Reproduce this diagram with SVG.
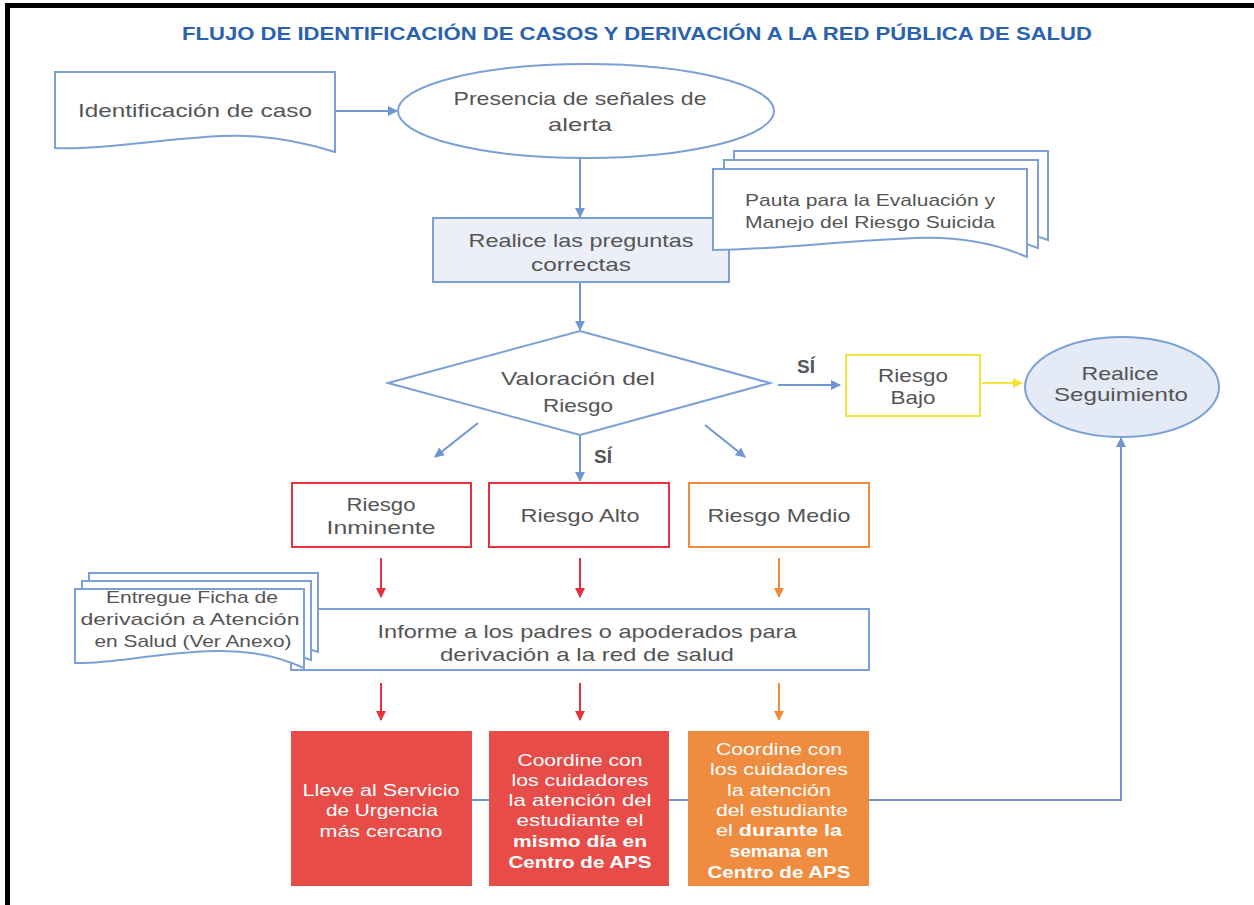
<svg xmlns="http://www.w3.org/2000/svg" width="1254" height="905" viewBox="0 0 1254 905">
<defs>
<style>
.t{font-family:"Liberation Sans","Open Sans",sans-serif;font-size:19px;fill:#555;text-anchor:middle}
.s{font-size:17px}
.w{fill:#fff;font-size:17px}
.b{font-weight:bold}
.bl{fill:none;stroke:#6f96d1;stroke-width:2}
.doc{fill:#fff;stroke:#7ba0d8;stroke-width:2}
</style>
<marker id="ab" viewBox="0 0 10 10" refX="9" refY="5" markerWidth="5" markerHeight="5" orient="auto"><path d="M0,0L10,5L0,10z" fill="#6f96d1"/></marker>
<marker id="ar" viewBox="0 0 10 10" refX="9" refY="5" markerWidth="5" markerHeight="5" orient="auto"><path d="M0,0L10,5L0,10z" fill="#e8313a"/></marker>
<marker id="ao" viewBox="0 0 10 10" refX="9" refY="5" markerWidth="5" markerHeight="5" orient="auto"><path d="M0,0L10,5L0,10z" fill="#f08a3c"/></marker>
<marker id="ay" viewBox="0 0 10 10" refX="9" refY="5" markerWidth="5" markerHeight="5" orient="auto"><path d="M0,0L10,5L0,10z" fill="#f5e33a"/></marker>
</defs>
<rect width="1254" height="905" fill="#fff"/>
<path d="M7.5,910V5.5H1260" fill="none" stroke="#000" stroke-width="5"/>
<text x="637" y="40" font-family="Liberation Sans,Arial,sans-serif" font-size="19" font-weight="bold" fill="#2a62b0" text-anchor="middle" textLength="910" lengthAdjust="spacingAndGlyphs">FLUJO DE IDENTIFICACIÓN DE CASOS Y DERIVACIÓN A LA RED PÚBLICA DE SALUD</text>

<g id="connectors">
<line class="bl" x1="336" y1="111" x2="397" y2="111" marker-end="url(#ab)"/>
<line class="bl" x1="580" y1="158" x2="580" y2="217" marker-end="url(#ab)"/>
<line class="bl" x1="580" y1="282" x2="580" y2="330" marker-end="url(#ab)"/>
<line class="bl" x1="778" y1="385" x2="840" y2="385" marker-end="url(#ab)"/>
<line x1="982" y1="383" x2="1022" y2="383" stroke="#f5e33a" stroke-width="2" marker-end="url(#ay)"/>
<line class="bl" x1="478" y1="423" x2="435" y2="457" marker-end="url(#ab)"/>
<line class="bl" x1="705" y1="425" x2="745" y2="457" marker-end="url(#ab)"/>
<line class="bl" x1="580" y1="435" x2="580" y2="481" marker-end="url(#ab)"/>
<line x1="381" y1="558" x2="381" y2="597" stroke="#e8313a" stroke-width="2" marker-end="url(#ar)"/>
<line x1="580" y1="558" x2="580" y2="597" stroke="#e8313a" stroke-width="2" marker-end="url(#ar)"/>
<line x1="779" y1="558" x2="779" y2="597" stroke="#f08a3c" stroke-width="2" marker-end="url(#ao)"/>
<line x1="381" y1="683" x2="381" y2="720" stroke="#e8313a" stroke-width="2" marker-end="url(#ar)"/>
<line x1="580" y1="683" x2="580" y2="720" stroke="#e8313a" stroke-width="2" marker-end="url(#ar)"/>
<line x1="779" y1="683" x2="779" y2="720" stroke="#f08a3c" stroke-width="2" marker-end="url(#ao)"/>
<path class="bl" d="M380,800H1121V438" marker-end="url(#ab)"/>
<text class="t b" x="806" y="373" font-size="19" fill="#444">SÍ</text>
<text class="t b" x="603" y="463" font-size="19" fill="#444">SÍ</text>
</g>

<g id="n-identificacion">
<path class="doc" d="M55,72H335V152C300,141 262,134 222,136C160,139 100,150 55,148Z"/>
<text class="t" x="195" y="117" textLength="234" lengthAdjust="spacingAndGlyphs">Identificación de caso</text>
</g>

<g id="n-presencia">
<ellipse cx="586" cy="111" rx="188" ry="47" fill="#fff" stroke="#7ba0d8" stroke-width="2"/>
<text class="t" x="580" y="105" textLength="253" lengthAdjust="spacingAndGlyphs">Presencia de señales de</text>
<text class="t" x="580" y="131" textLength="64" lengthAdjust="spacingAndGlyphs">alerta</text>
</g>

<g id="n-realice">
<rect x="433" y="218" width="296" height="64" fill="#eceff8" stroke="#7ba0d8" stroke-width="2"/>
<text class="t" x="581" y="247" textLength="225" lengthAdjust="spacingAndGlyphs">Realice las preguntas</text>
<text class="t" x="581" y="271" textLength="100" lengthAdjust="spacingAndGlyphs">correctas</text>
</g>

<g id="n-pauta">
<path class="doc" d="M734,151H1048V240C1015,228 990,225 960,226L734,232Z"/>
<path class="doc" d="M724,160H1038V248C1005,236 980,233 950,234L724,240Z"/>
<path class="doc" d="M713,169H1027V257C995,243 960,236 915,238C840,241 770,250 713,250Z"/>
<text class="t s" x="870" y="206" textLength="250" lengthAdjust="spacingAndGlyphs">Pauta para la Evaluación y</text>
<text class="t s" x="870" y="228" textLength="250" lengthAdjust="spacingAndGlyphs">Manejo del Riesgo Suicida</text>
</g>

<g id="n-valoracion">
<polygon points="388,383 580,331 770,383 580,435" fill="#fff" stroke="#7ba0d8" stroke-width="2"/>
<text class="t" x="578" y="385" textLength="154" lengthAdjust="spacingAndGlyphs">Valoración del</text>
<text class="t" x="578" y="412" textLength="70" lengthAdjust="spacingAndGlyphs">Riesgo</text>
</g>

<g id="n-bajo">
<rect x="846" y="355" width="134" height="61" fill="#fff" stroke="#f5e33a" stroke-width="2"/>
<text class="t" x="913" y="382" font-size="18" textLength="70" lengthAdjust="spacingAndGlyphs">Riesgo</text>
<text class="t" x="913" y="404" font-size="18" textLength="45" lengthAdjust="spacingAndGlyphs">Bajo</text>
</g>

<g id="n-seguimiento">
<ellipse cx="1122" cy="387" rx="97" ry="50" fill="#e4eaf6" stroke="#7ba0d8" stroke-width="2"/>
<text class="t" x="1120" y="380" font-size="18" textLength="77" lengthAdjust="spacingAndGlyphs">Realice</text>
<text class="t" x="1121" y="401" font-size="18" textLength="134" lengthAdjust="spacingAndGlyphs">Seguimiento</text>
</g>

<g id="n-inminente">
<rect x="292" y="483" width="179" height="64" fill="#fff" stroke="#e8313a" stroke-width="2"/>
<text class="t" x="381" y="511" textLength="69" lengthAdjust="spacingAndGlyphs">Riesgo</text>
<text class="t" x="381" y="534" textLength="109" lengthAdjust="spacingAndGlyphs">Inminente</text>
</g>
<g id="n-alto">
<rect x="489" y="483" width="180" height="64" fill="#fff" stroke="#e8313a" stroke-width="2"/>
<text class="t" x="580" y="522" textLength="119" lengthAdjust="spacingAndGlyphs">Riesgo Alto</text>
</g>
<g id="n-medio">
<rect x="689" y="483" width="180" height="64" fill="#fff" stroke="#f08a3c" stroke-width="2"/>
<text class="t" x="779" y="522" textLength="143" lengthAdjust="spacingAndGlyphs">Riesgo Medio</text>
</g>

<g id="n-informe">
<rect x="291" y="609" width="578" height="61" fill="#fff" stroke="#7ba0d8" stroke-width="2"/>
<text class="t" x="587" y="638" textLength="419" lengthAdjust="spacingAndGlyphs">Informe a los padres o apoderados para</text>
<text class="t" x="587" y="661" textLength="294" lengthAdjust="spacingAndGlyphs">derivación a la red de salud</text>
</g>

<g id="n-ficha">
<path class="doc" d="M89,573H318V652C300,645 280,641 250,641L89,645Z"/>
<path class="doc" d="M82,581H311V660C293,653 273,649 243,649L82,653Z"/>
<path class="doc" d="M75,589H304V668C280,657 250,650 215,651C150,653 115,664 75,663Z"/>
<text class="t s" x="192" y="603" textLength="172" lengthAdjust="spacingAndGlyphs">Entregue Ficha de</text>
<text class="t s" x="190" y="625" textLength="219" lengthAdjust="spacingAndGlyphs">derivación a Atención</text>
<text class="t s" x="193" y="647" textLength="197" lengthAdjust="spacingAndGlyphs">en Salud (Ver Anexo)</text>
</g>

<g id="n-lleve">
<rect x="291" y="731" width="181" height="155" fill="#e84c48"/>
<text class="t w" x="381" y="796" textLength="157" lengthAdjust="spacingAndGlyphs">Lleve al Servicio</text>
<text class="t w" x="382" y="816" textLength="112" lengthAdjust="spacingAndGlyphs">de Urgencia</text>
<text class="t w" x="381" y="837" textLength="123" lengthAdjust="spacingAndGlyphs">más cercano</text>
</g>
<g id="n-coord-alto">
<rect x="489" y="731" width="180" height="155" fill="#e84c48"/>
<text class="t w" x="580" y="766" textLength="125" lengthAdjust="spacingAndGlyphs">Coordine con</text>
<text class="t w" x="580" y="786" textLength="137" lengthAdjust="spacingAndGlyphs">los cuidadores</text>
<text class="t w" x="580" y="806" textLength="143" lengthAdjust="spacingAndGlyphs">la atención del</text>
<text class="t w" x="580" y="826" textLength="127" lengthAdjust="spacingAndGlyphs">estudiante el</text>
<text class="t w b" x="580" y="847" textLength="134" lengthAdjust="spacingAndGlyphs">mismo día en</text>
<text class="t w b" x="580" y="868" textLength="143" lengthAdjust="spacingAndGlyphs">Centro de APS</text>
</g>
<g id="n-coord-medio">
<rect x="688" y="731" width="181" height="155" fill="#f08c40"/>
<text class="t w" x="779" y="755" textLength="126" lengthAdjust="spacingAndGlyphs">Coordine con</text>
<text class="t w" x="779" y="775" textLength="138" lengthAdjust="spacingAndGlyphs">los cuidadores</text>
<text class="t w" x="779" y="796" textLength="104" lengthAdjust="spacingAndGlyphs">la atención</text>
<text class="t w" x="782" y="816" textLength="132" lengthAdjust="spacingAndGlyphs">del estudiante</text>
<text class="t w" x="779" y="836" textLength="126" lengthAdjust="spacingAndGlyphs">el <tspan class="b">durante la</tspan></text>
<text class="t w b" x="779" y="857" textLength="99" lengthAdjust="spacingAndGlyphs">semana en</text>
<text class="t w b" x="779" y="878" textLength="143" lengthAdjust="spacingAndGlyphs">Centro de APS</text>
</g>
</svg>
